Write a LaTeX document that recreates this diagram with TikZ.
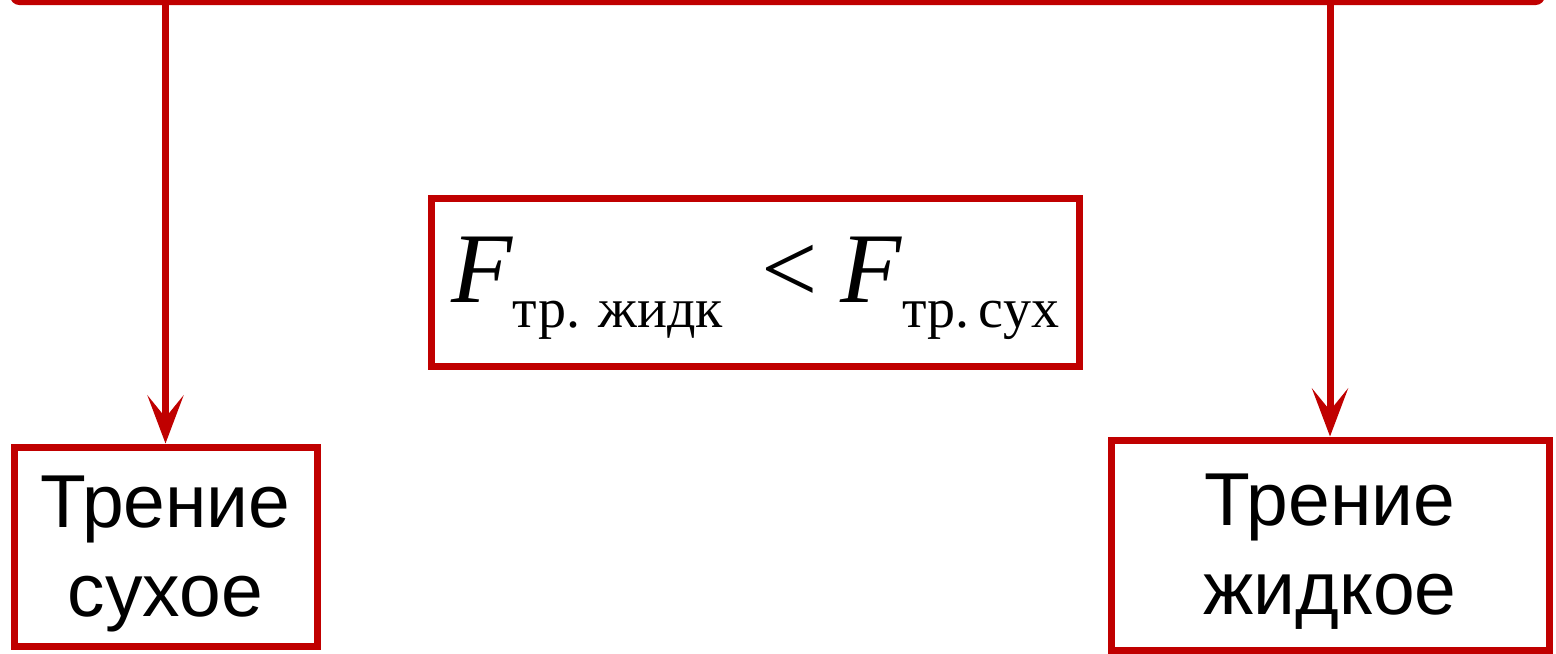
\documentclass[tikz,border=0pt]{standalone}
\usepackage{fontspec}
\setmainfont{Liberation Serif}
\newfontfamily\arialf{Liberation Sans}
\usetikzlibrary{arrows.meta}
\definecolor{myred}{RGB}{192,0,0}
\newcommand{\subtxt}[1]{\raisebox{-12.5pt}{\fontsize{28pt}{28pt}\selectfont #1}}
\begin{document}
\begin{tikzpicture}[x=0.5pt,y=-0.5pt,
  box/.style={draw=myred, line width=3.5pt, rectangle, inner sep=0pt},
  lbl/.style={font=\arialf\fontsize{37.5pt}{44.5pt}\selectfont, align=center},
  arr/.style={draw=myred, line width=3.5pt, -{Stealth[length=24pt,width=18pt,inset=11pt]}}]
\useasboundingbox (0,0) rectangle (1556,653);
\node[box, rounded corners=3pt, minimum width=764pt, minimum height=60pt] (top) at (777.5,-58.5) {};
\node[box, lbl, minimum width=151.5pt, minimum height=99.5pt] (dry) at (165.5,546.5) {\rule{0pt}{32.9pt}Трение\\сухое};
\node[box, lbl, minimum width=219pt, minimum height=105pt] (wet) at (1330,545) {\rule{0pt}{32.9pt}Трение\\жидкое};
\node[box, minimum width=324pt, minimum height=84pt] (cmp) at (755,282)
  {\fontsize{50pt}{50pt}\selectfont\rule{0pt}{39pt}\textit{F}\subtxt{тр. жидк}\kern19pt<\kern11.5pt\textit{F}\subtxt{тр.\,сух}};
\draw[arr] (dry.north |- top.south) -- (dry.north);
\draw[arr] (wet.north |- top.south) -- (wet.north);
\end{tikzpicture}
\end{document}
